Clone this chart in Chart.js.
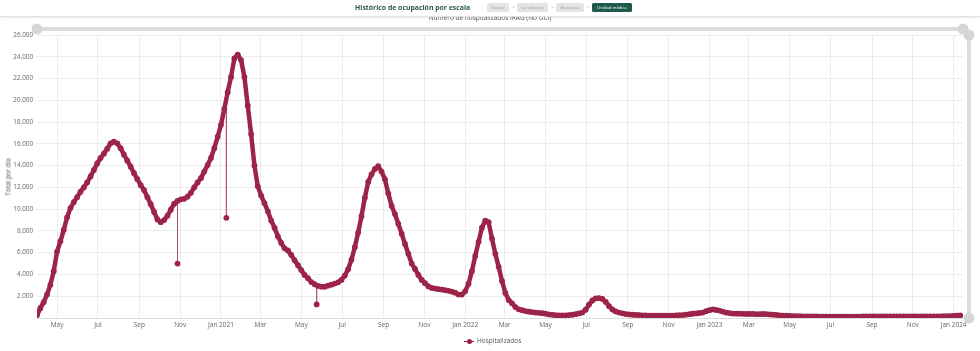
<!DOCTYPE html>
<html><head><meta charset="utf-8">
<script src="https://cdn.jsdelivr.net/npm/chart.js@4.4.0/dist/chart.umd.min.js"></script>
<style>
html,body{margin:0;padding:0;background:#fff;width:980px;height:351px;overflow:hidden;font-family:"Open Sans",sans-serif;}
#wrap{position:relative;width:980px;height:351px;}
#c{position:absolute;left:0;top:0;}
#header{position:absolute;left:0;top:0;width:980px;height:16px;background:#fff;border-bottom:1px solid #e2e2e2;box-shadow:0 1px 2px rgba(0,0,0,0.08);z-index:3;}
#titulo{position:absolute;left:355px;top:2px;font-size:6.9px;line-height:11px;font-weight:700;color:#2b5a4d;white-space:nowrap;}
.crumb{position:absolute;top:3px;height:9px;line-height:9px;font-size:4.2px;color:#a0a0a0;background:#e4e4e4;border-radius:1.5px;text-align:center;white-space:nowrap;}
.crumb.act{background:#1f5a4c;color:#fff;}
.sep{position:absolute;top:3px;font-size:5px;line-height:9px;color:#aaa;}
#subtitulo{position:absolute;left:0;width:980px;top:13px;text-align:center;font-size:6.5px;line-height:9px;color:#555;z-index:2;}
#ytitle{position:absolute;left:8px;top:177px;transform:translate(-50%,-50%) rotate(-90deg);font-size:6.3px;color:#555;white-space:nowrap;}
#leyenda{position:absolute;left:464px;top:336px;height:10px;font-size:6.5px;line-height:10px;color:#555;white-space:nowrap;}
#leyenda .sym{display:inline-block;position:relative;width:10px;height:10px;vertical-align:top;margin-right:3px;}
#leyenda .sym:before{content:"";position:absolute;left:0;top:4.5px;width:10px;height:1px;background:#9d2449;}
#leyenda .sym:after{content:"";position:absolute;left:2.5px;top:2.5px;width:5px;height:5px;border-radius:50%;background:#9d2449;}
</style></head>
<body><div id="wrap">
<canvas id="c" width="980" height="351"></canvas>
<div id="header">
  <div id="titulo">Histórico de ocupación por escala</div>
  <div class="crumb" style="left:487px;width:22px;">Estatal</div><div class="sep" style="left:512px;">&gt;</div>
  <div class="crumb" style="left:517px;width:31px;">Jurisdicción</div><div class="sep" style="left:551px;">&gt;</div>
  <div class="crumb" style="left:556px;width:28px;">Municipal</div><div class="sep" style="left:587px;">&gt;</div>
  <div class="crumb act" style="left:592px;width:40px;">Unidad médica</div>
</div>
<div id="subtitulo">Número de hospitalizados IRAG (No UCI)</div>
<div id="ytitle">Total por día</div>
<div id="leyenda"><span class="sym"></span>Hospitalizados</div>
</div>
<script>
// ---- Data ----
const inicio = '2020-04-01';      // first date of the series
const pasoDias = 5;               // one value every 5 days
const hospitalizados = [
  250, 900, 1450, 2150, 3050, 4300, 6100, 7050, 8100, 9250,
  10100, 10650, 11100, 11600, 12000, 12450, 13000, 13600, 14200, 14700,
  15100, 15550, 16050, 16200, 16050, 15600, 15000, 14450, 13900, 13300,
  12750, 12200, 11750, 11100, 10450, 9750, 9050, 8800, 9000, 9400,
  9950, 10500, 10750, 10900, 10950, 11150, 11500, 12000, 12450, 12850,
  13450, 14050, 14700, 15600, 16650, 17750, 19200, 20750, 22150, 23850,
  24200, 23700, 22150, 19500, 16900, 14000, 12100, 11250, 10550, 9800,
  8950, 8300, 7500, 6900, 6400, 6200, 5800, 5300, 4850, 4400,
  3950, 3650, 3300, 3100, 2950, 2880, 2870, 2970, 3060, 3160,
  3280, 3500, 3900, 4480, 5350, 6500, 7850, 9350, 11050, 12500,
  13200, 13700, 13950, 13450, 12750, 11450, 10300, 9550, 8650, 7750,
  6800, 5900, 5000, 4500, 3950, 3500, 3200, 2900, 2760, 2700,
  2650, 2610, 2560, 2500, 2430, 2330, 2150, 2150, 2450, 3150,
  4300, 5700, 7000, 8300, 8950, 8800, 7300, 5900, 4700, 3400,
  2300, 1650, 1350, 1000, 800, 720, 640, 580, 540, 500,
  480, 440, 400, 330, 290, 255, 245, 245, 250, 265,
  300, 350, 420, 500, 760, 1230, 1610, 1800, 1830, 1750,
  1480, 1080, 780, 600, 500, 430, 360, 330, 300, 280,
  265, 250, 235, 220, 215, 215, 215, 215, 215, 215,
  225, 240, 255, 270, 310, 355, 390, 420, 460, 500,
  620, 720, 790, 740, 680, 590, 500, 450, 410, 400,
  400, 385, 370, 370, 370, 350, 350, 370, 350, 330,
  310, 280, 250, 220, 205, 190, 180, 170, 160, 150,
  150, 145, 140, 140, 135, 130, 125, 120, 120, 120,
  120, 120, 120, 120, 125, 130, 135, 140, 140, 145,
  145, 150, 150, 150, 150, 150, 150, 150, 150, 150,
  150, 150, 150, 150, 150, 155, 155, 155, 155, 155,
  155, 160, 170, 180, 200, 220, 240
];
// isolated daily outliers visible as spikes
const atipicosFecha = ['2020-10-28', '2021-01-09', '2021-05-24'];
const atipicosValor = [5000, 9200, 1250];
const fin = '2024-01-15';

const etiquetasX = ['May','Jul','Sep','Nov','Jan 2021','Mar','May','Jul','Sep','Nov','Jan 2022','Mar','May','Jul','Sep','Nov','Jan 2023','Mar','May','Jul','Sep','Nov','Jan 2024'];
const fechasEtiquetas = ['2020-05-01','2020-07-01','2020-09-01','2020-11-01','2021-01-01','2021-03-01','2021-05-01','2021-07-01','2021-09-01','2021-11-01','2022-01-01','2022-03-01','2022-05-01','2022-07-01','2022-09-01','2022-11-01','2023-01-01','2023-03-01','2023-05-01','2023-07-01','2023-09-01','2023-11-01','2024-01-01'];
const yMax = 26000, yPaso = 2000;

// ---- helpers ----
const DAY = 86400000;
const t0 = Date.parse(inicio + 'T00:00:00Z');
const dia = s => Math.round((Date.parse(s + 'T00:00:00Z') - t0) / DAY);

const puntos = hospitalizados.map((v, i) => ({x: i * pasoDias, y: v}));
// spikes: from the series value at the nearest sampled day down/up to the outlier value
const picos = [];
atipicosFecha.forEach((f, i) => {
  const d = dia(f);
  const k = Math.round(d / pasoDias);
  picos.push({x: d, y: hospitalizados[k], r: 0});
  picos.push({x: d, y: atipicosValor[i], r: 2.9});
  picos.push({x: d, y: null, r: 0});
});
const tickDias = fechasEtiquetas.map(dia);
const fmt = v => v === 0 ? '' : v.toLocaleString('de-DE');
const GUINDA = '#9d2449';

const sliders = {
  id: 'sliders',
  afterDraw(chart) {
    const {ctx, chartArea: a} = chart;
    ctx.save();
    ctx.strokeStyle = '#dcdcdc'; ctx.fillStyle = '#d6d6d6'; ctx.lineWidth = 4; ctx.lineCap = 'round';
    const yb = a.top - 6;
    ctx.beginPath(); ctx.moveTo(a.left, yb); ctx.lineTo(a.right, yb); ctx.stroke();
    const xb = a.right + 6;
    ctx.beginPath(); ctx.moveTo(xb, a.top); ctx.lineTo(xb, a.bottom); ctx.stroke();
    [[a.left, yb], [a.right, yb], [xb, a.top], [xb, a.bottom]].forEach(([x, y]) => {
      ctx.beginPath(); ctx.arc(x, y, 5.5, 0, Math.PI * 2); ctx.fill();
    });
    ctx.restore();
  }
};

new Chart(document.getElementById('c'), {
  type: 'line',
  data: { datasets: [
    {
      label: 'Atípicos',
      data: picos,
      borderColor: 'rgba(157,36,73,0.45)',
      borderWidth: 1,
      spanGaps: false,
      pointRadius: c => (c.raw && c.raw.r) || 0,
      pointBorderWidth: 0,
      pointBackgroundColor: GUINDA,
      tension: 0
    },
    {
      label: 'Hospitalizados',
      data: puntos,
      borderColor: GUINDA,
      borderWidth: 4.5,
      borderCapStyle: 'round',
      borderJoinStyle: 'round',
      pointRadius: 2.9,
      pointBorderWidth: 0,
      pointBackgroundColor: GUINDA,
      pointHoverRadius: 3,
      tension: 0
    }
  ]},
  options: {
    responsive: false, animation: false,
    layout: { padding: {top: 35, right: 17, left: 0, bottom: 0} },
    plugins: { legend: {display: false}, title: {display: false}, tooltip: {enabled: false} },
    scales: {
      x: {
        type: 'linear', min: 0, max: dia(fin),
        afterBuildTicks: s => { s.ticks = tickDias.map(v => ({value: v})); },
        afterFit: s => { s.height = 33; },
        ticks: {
          autoSkip: false, maxRotation: 0, padding: 3,
          color: '#666', font: {family: 'Open Sans', size: 6.5},
          callback: v => { const i = tickDias.indexOf(v); return i >= 0 ? etiquetasX[i] : ''; }
        },
        grid: { color: '#ececec', drawTicks: false },
        border: { color: '#dddddd' }
      },
      y: {
        min: 0, max: yMax,
        afterFit: s => { s.width = 37; },
        ticks: { stepSize: yPaso, padding: 4, color: '#666', font: {family: 'Open Sans', size: 6.3}, callback: fmt },
        grid: { color: '#ececec', drawTicks: false },
        border: { display: false }
      }
    }
  },
  plugins: [sliders]
});
</script>
</body></html>
